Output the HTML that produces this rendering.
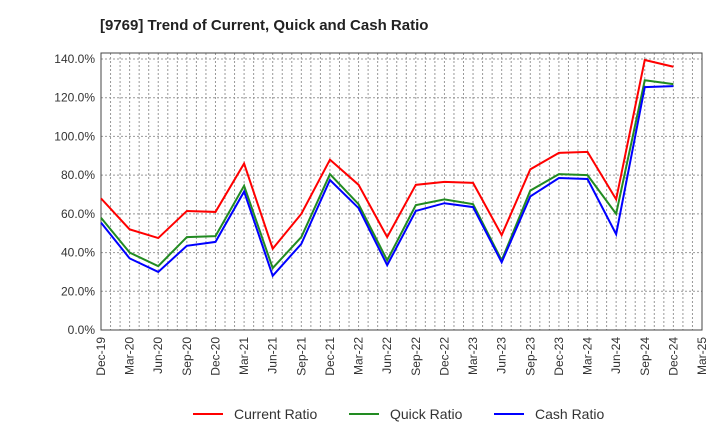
<!DOCTYPE html>
<html><head><meta charset="utf-8"><style>
body{margin:0;background:#fff;font-family:"Liberation Sans",sans-serif}
</style></head><body>
<svg id="c" width="720" height="440" xmlns="http://www.w3.org/2000/svg">
<text x="100" y="30" font-size="15" font-weight="bold" fill="#222">[9769]  Trend of Current, Quick and Cash Ratio</text>
<g id="grid"></g><g id="axes"></g><g id="series"></g><g id="legend"></g>
</svg>
<script>
const categories=["Dec-19","Mar-20","Jun-20","Sep-20","Dec-20","Mar-21","Jun-21","Sep-21","Dec-21","Mar-22","Jun-22","Sep-22","Dec-22","Mar-23","Jun-23","Sep-23","Dec-23","Mar-24","Jun-24","Sep-24","Dec-24","Mar-25"];
const currentRatio=[68,52,47.5,61.5,61,86,42,60,88,75,48,75,76.5,76,49,83,91.5,92,67.5,139.5,136];
const quickRatio=[58,40,33,48,48.5,74.5,32,48,80.5,65,36,64.5,67.5,65,36,72,80.5,80,60,129,127];
const cashRatio=[55.5,37,30,43.5,45.5,71.5,28,44.5,77.5,63,33.5,61.5,65.5,63.5,35,69,78.5,78,49.5,125.5,126];
const yTicks=[0,20,40,60,80,100,120,140];
const NS="http://www.w3.org/2000/svg";
const L=101,R=702,T=53,B=330,yMax=143.1;
const x=i=>L+i*(R-L)/(categories.length-1);
const y=v=>B-v*(B-T)/yMax;
function mk(tag,attrs,parent){const e=document.createElementNS(NS,tag);for(const k in attrs)e.setAttribute(k,attrs[k]);parent.appendChild(e);return e;}
const grid=document.getElementById('grid'),axes=document.getElementById('axes'),series=document.getElementById('series'),legend=document.getElementById('legend');
for(let m=1;m<(categories.length-1)*3;m++){
 const gx=L+m*(R-L)/((categories.length-1)*3);
 const g=mk('line',{x1:gx,x2:gx,y1:T,y2:B,stroke:'#999','stroke-dasharray':'2,2','stroke-width':1},grid);
 
 
}
yTicks.forEach(t=>{
 const g=mk('line',{x1:L,x2:R,y1:y(t),y2:y(t),stroke:'#999','stroke-dasharray':'2,2','stroke-width':1},grid);
 
 
 const lb=mk('text',{x:L-6,y:y(t)+4,'text-anchor':'end','font-size':12,fill:'#333'},axes);
 lb.textContent=t.toFixed(1)+'%';
 
 
});
const frame=mk('rect',{x:L,y:T,width:R-L,height:B-T,fill:'none',stroke:'#444','stroke-width':1},axes);


categories.forEach((c,i)=>{
 const lb=mk('text',{x:0,y:0,'text-anchor':'end','font-size':12,fill:'#333',transform:`translate(${x(i)+4},${B+7}) rotate(-90)`},axes);
 lb.textContent=c;
 
 
});
const defs=[[currentRatio,'#ff0000','Current Ratio','current-ratio-line'],[quickRatio,'#228b22','Quick Ratio','quick-ratio-line'],[cashRatio,'#0000ff','Cash Ratio','cash-ratio-line']];
defs.forEach(([d,col,name,dn])=>{
 const p=mk('polyline',{points:d.map((v,i)=>x(i)+','+y(v)).join(' '),fill:'none',stroke:col,'stroke-width':2},series);
 
 
});
const lx=[193,349,494];
defs.forEach(([d,col,name],i)=>{
 const l=mk('line',{x1:lx[i],x2:lx[i]+30,y1:414,y2:414,stroke:col,'stroke-width':2},legend);
 
 
 const t=mk('text',{x:lx[i]+41,y:419,'font-size':14,fill:'#333'},legend);
 t.textContent=name;
 
 
});
</script>
</body></html>
